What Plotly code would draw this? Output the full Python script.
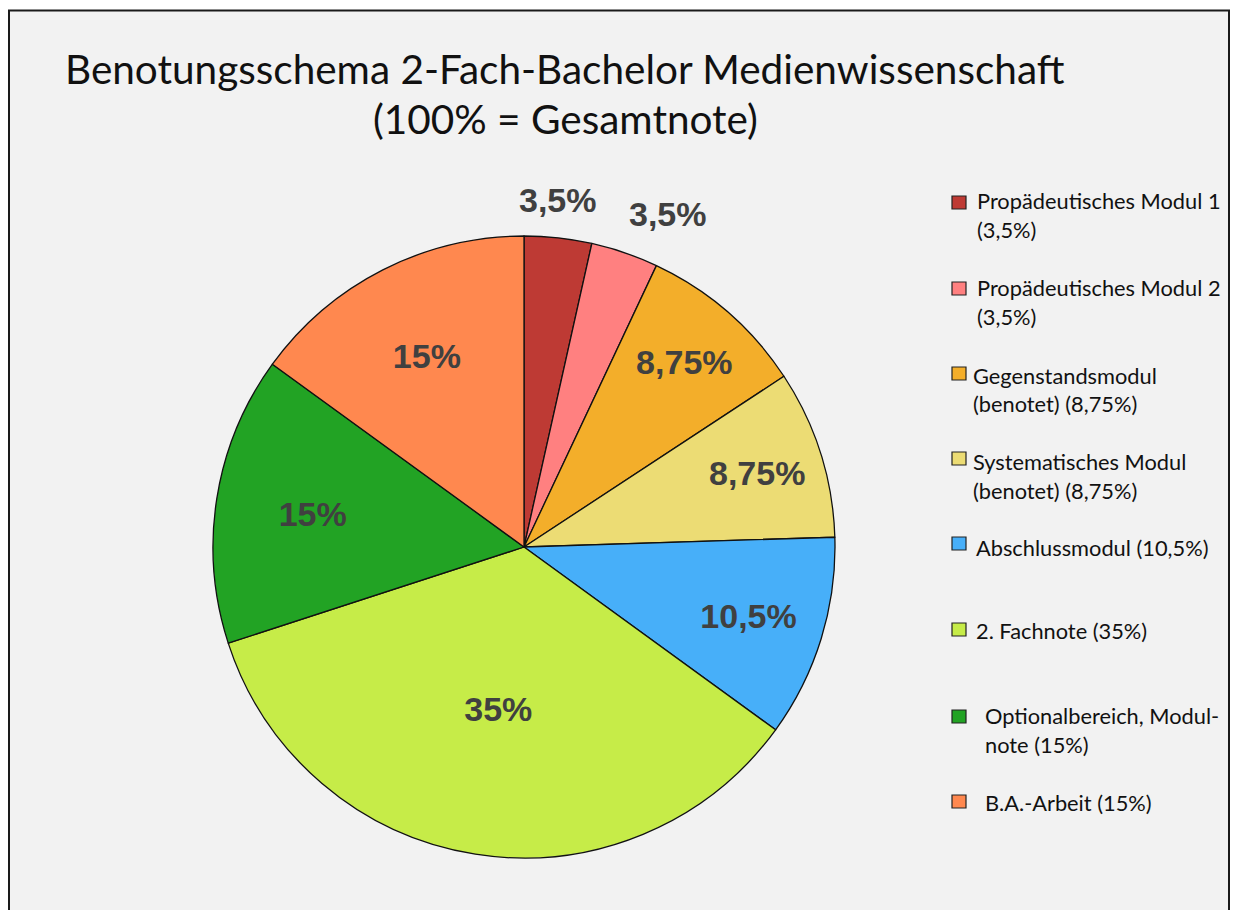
import plotly.graph_objects as go

# ---- data ----
categories = [
    "Propädeutisches Modul 1 (3,5%)",
    "Propädeutisches Modul 2 (3,5%)",
    "Gegenstandsmodul (benotet) (8,75%)",
    "Systematisches Modul (benotet) (8,75%)",
    "Abschlussmodul (10,5%)",
    "2. Fachnote (35%)",
    "Optionalbereich, Modulnote (15%)",
    "B.A.-Arbeit (15%)",
]
legend_lines = [
    ["Propädeutisches Modul 1", "(3,5%)"],
    ["Propädeutisches Modul 2", "(3,5%)"],
    ["Gegenstandsmodul", "(benotet) (8,75%)"],
    ["Systematisches Modul", "(benotet) (8,75%)"],
    ["Abschlussmodul (10,5%)"],
    ["2. Fachnote (35%)"],
    ["Optionalbereich, Modul-", "note (15%)"],
    ["B.A.-Arbeit (15%)"],
]
values = [3.5, 3.5, 8.75, 8.75, 10.5, 35, 15, 15]
colors = ["#BE3A34", "#FF8080", "#F3AE2A", "#ECDC74", "#47AFF9", "#C6EC48", "#22A324", "#FF884F"]
outside_slices = [0, 1]   # slices whose value label sits outside the pie

title_lines = ["Benotungsschema 2-Fach-Bachelor Medienwissenschaft", "(100% = Gesamtnote)"]

# page body has an 8px margin -> figure fits the remaining window without scrolling
OFF = 8
W, H = 1238 - 2 * OFF, 918 - 2 * OFF
def px(x):
    return (x - OFF) / W
def py(y):
    return 1 - (y - OFF) / H

slice_text = [("%g" % v).replace(".", ",") + "%" for v in values]
inside_text = ["" if i in outside_slices else t for i, t in enumerate(slice_text)]

label_font = dict(family="Liberation Sans", size=34, color="#404040", weight="bold")

fig = go.Figure()
fig.add_trace(go.Pie(
    labels=categories,
    values=values,
    text=inside_text,
    texttemplate="%{text}",
    textposition="inside",
    insidetextorientation="horizontal",
    sort=False,
    direction="clockwise",
    rotation=0,
    marker=dict(colors=colors, line=dict(color="#111111", width=1.3)),
    textfont=label_font,
    domain=dict(x=[px(213), px(835)], y=[py(858), py(236)]),
    showlegend=False,
    hoverinfo="label+percent",
))

shapes = [dict(type="rect", xref="paper", yref="paper",
               x0=px(9), x1=px(1229), y0=-0.05, y1=py(10.5),
               fillcolor="#F2F2F2", line=dict(color="#1a1a1a", width=2), layer="below")]
annotations = []

# outside value labels for the two narrow slices
outside_label_xy = [(558, 200), (668, 214)]
for k, i in enumerate(outside_slices):
    x, y = outside_label_xy[k]
    annotations.append(dict(text=slice_text[i], x=px(x), y=py(y), xref="paper", yref="paper",
                            xanchor="center", yanchor="middle", showarrow=False, font=label_font))

# title
for line, yy in zip(title_lines, [68, 119]):
    annotations.append(dict(text=line, x=px(565), y=py(yy), xref="paper", yref="paper",
                            xanchor="center", yanchor="middle", showarrow=False,
                            font=dict(family="Lato", size=40.5, color="#111111")))

# legend (manual, layout positions)
sym_tops = [196, 282, 367, 452, 537, 623, 710, 795]
text_x = [975, 975, 971, 971, 974, 974, 983, 983]
line1_centers = [200, 287, 375, 461, 547, 630, 715, 802]
line_gap = 29
for i, lines in enumerate(legend_lines):
    t = sym_tops[i]
    shapes.append(dict(type="rect", xref="paper", yref="paper",
                       x0=px(952), x1=px(966), y0=py(t + 13), y1=py(t),
                       fillcolor=colors[i], line=dict(color="#222222", width=1.2)))
    for j, line in enumerate(lines):
        annotations.append(dict(text=line, x=px(text_x[i]), y=py(line1_centers[i] + j * line_gap),
                                xref="paper", yref="paper", xanchor="left", yanchor="middle",
                                showarrow=False, font=dict(family="Lato", size=21.8, color="#111111")))

fig.update_layout(
    width=W, height=H,
    margin=dict(l=0, r=0, t=0, b=0),
    paper_bgcolor="white",
    plot_bgcolor="white",
    shapes=shapes,
    annotations=annotations,
)

fig.write_html("out.html")
